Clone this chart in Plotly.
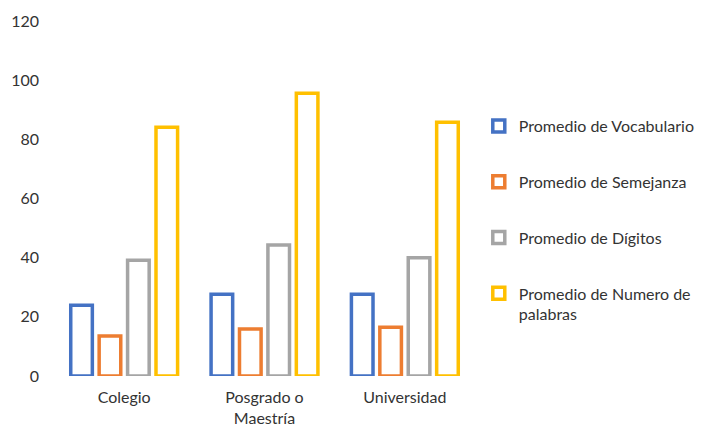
import plotly.graph_objects as go

categories = ["Colegio", "Posgrado o<br>Maestría", "Universidad"]
series_names = ["Promedio de Vocabulario", "Promedio de Semejanza",
                "Promedio de Dígitos", "Promedio de Numero de<br>palabras"]
vocabulario = [23.9, 27.6, 27.6]
semejanza = [13.5, 15.9, 16.5]
digitos = [39.1, 44.3, 40.0]
numero_palabras = [84.1, 95.6, 85.8]
colors = ["#4472C4", "#ED7D31", "#A5A5A5", "#FFC000"]
y_ticks = [0, 20, 40, 60, 80, 100, 120]

fig = go.Figure()
for i, (name, vals) in enumerate(zip(series_names,
                                     [vocabulario, semejanza, digitos, numero_palabras])):
    fig.add_trace(go.Bar(
        x=categories, y=vals, name=name, legendgroup=str(i),
        marker=dict(color="white", line=dict(color=colors[i], width=3.5)),
    ))

fig.update_layout(
    width=708, height=427,
    margin=dict(l=54, r=233, t=21, b=51, autoexpand=False),
    paper_bgcolor="white", plot_bgcolor="white",
    barmode="group", bargap=0.19, bargroupgap=0.24,
    font=dict(family="Lato", size=16, color="#333333"),
    showlegend=True,
    legend=dict(x=1.009, y=0.752, xanchor="left", yanchor="top",
                traceorder="grouped", tracegroupgap=32, valign="top",
                font=dict(size=16, color="#333333"), itemwidth=30),
    xaxis=dict(showgrid=False, showline=False, ticks="", ticklabelstandoff=10,
               automargin=False),
    yaxis=dict(range=[0, 120], tickvals=y_ticks, showgrid=False, zeroline=False,
               showline=False, ticks="", ticklabelstandoff=14, automargin=False),
)

fig.write_html("out.html")
